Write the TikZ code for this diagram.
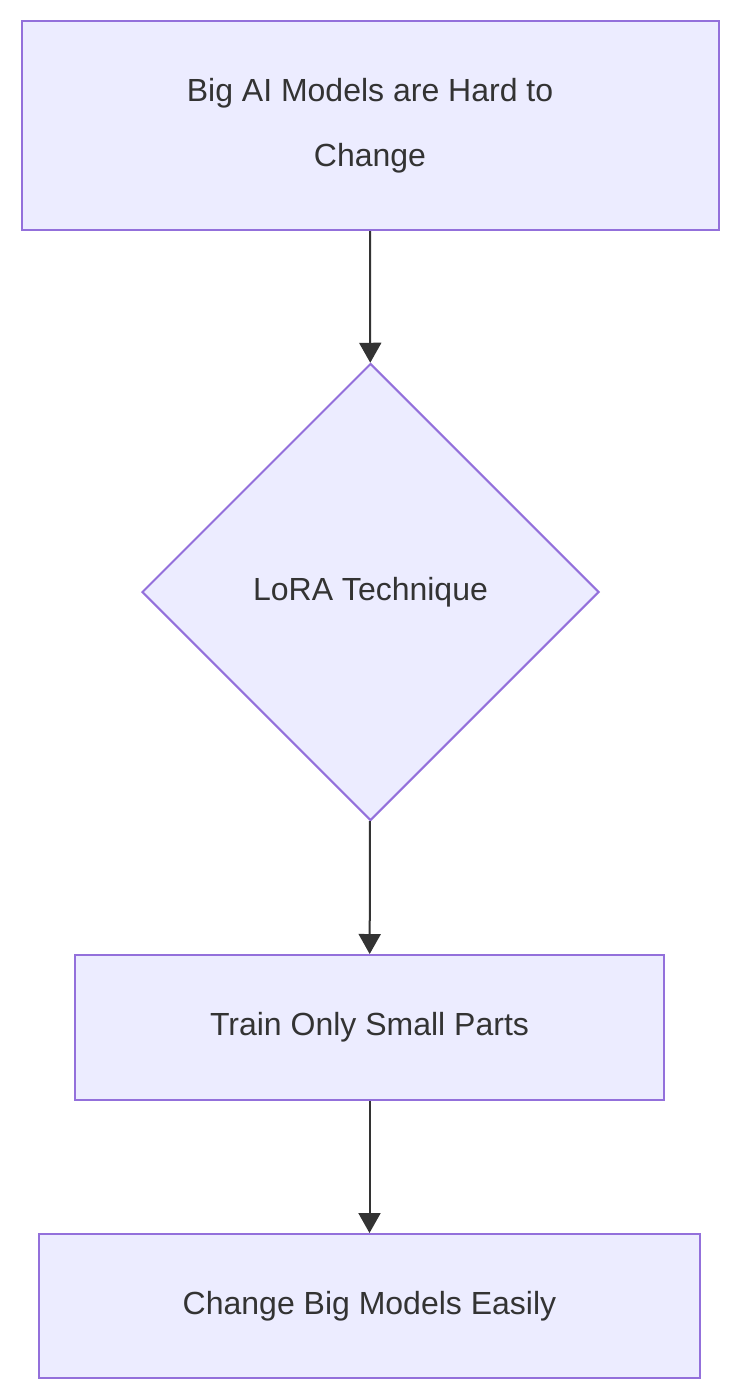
\documentclass[tikz,border=0pt]{standalone}
\usepackage{fontspec}
\setmainfont{Liberation Sans}
\usetikzlibrary{shapes.geometric,arrows.meta}
\definecolor{nfill}{HTML}{ECECFF}
\definecolor{nline}{HTML}{9370DB}
\definecolor{txt}{HTML}{333333}
\begin{document}
\begin{tikzpicture}[x=1pt,y=-1pt,
  box/.style={draw=nline,fill=nfill,line width=2pt,text=txt,inner sep=0pt,align=center,font=\fontsize{32}{65}\selectfont},
  dia/.style={box,diamond,aspect=1,minimum width=457pt,minimum height=457pt},
  arr/.style={draw=txt,line width=2pt,-{Triangle[length=20pt,width=22pt]}}]
\useasboundingbox (0,0) rectangle (740,1400);
\node[box,minimum width=697pt,minimum height=209pt] (a) at (370,125.5) {Big AI Models are Hard to\\Change};
\node[dia] (b) at (370.5,592) {LoRA Technique};
\node[box,minimum width=589pt,minimum height=145pt] (c) at (369.5,1027.5) {Train Only Small Parts};
\node[box,minimum width=661pt,minimum height=144pt] (d) at (369.5,1306) {Change Big Models Easily};
\draw[arr] (a) -- (b);
\draw[arr] (b) -- (c);
\draw[arr] (c) -- (d);
\end{tikzpicture}
\end{document}
